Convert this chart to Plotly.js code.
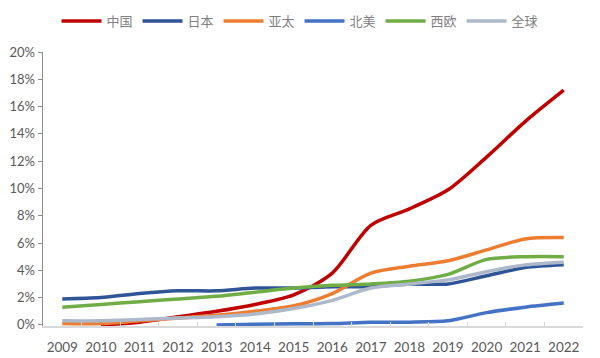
<!DOCTYPE html>
<html>
<head>
<meta charset="utf-8">
<script src="https://cdn.plot.ly/plotly-3.0.1.min.js"></script>
<style>html,body{margin:0;padding:0;background:#fff}#chart{width:600px;height:358px}</style>
</head>
<body>
<div id="chart"></div>
<script>
const years = ['2009','2010','2011','2012','2013','2014','2015','2016','2017','2018','2019','2020','2021','2022'];
const seriesNames = ['中国','日本','亚太','北美','西欧','全球'];
const china   = [null, 0.0, 0.2, 0.6, 1.0, 1.5, 2.2, 3.8, 7.3, 8.5, 9.9, 12.3, 14.9, 17.2];
const japan   = [1.9, 2.0, 2.3, 2.5, 2.5, 2.7, 2.7, 2.8, 2.8, 3.0, 3.0, 3.6, 4.2, 4.4];
const apac    = [0.1, 0.1, 0.3, 0.5, 0.7, 1.0, 1.4, 2.3, 3.8, 4.3, 4.7, 5.5, 6.3, 6.4];
const namer   = [null, null, null, null, 0.0, 0.05, 0.08, 0.1, 0.2, 0.2, 0.3, 0.9, 1.3, 1.6];
const weurope = [1.3, 1.5, 1.7, 1.9, 2.1, 2.4, 2.7, 2.9, 3.0, 3.2, 3.7, 4.8, 5.0, 5.0];
const world   = [0.3, 0.3, 0.4, 0.5, 0.6, 0.8, 1.2, 1.8, 2.7, 3.0, 3.3, 3.9, 4.4, 4.6];
const yTicks = [0,2,4,6,8,10,12,14,16,18,20];

const colors = ['#C00000','#2F5597','#ED7D31','#4472C4','#70AD47','#ADB9CA'];
const values = [china, japan, apac, namer, weurope, world];
const traces = values.map((v,i)=>({
  x: years, y: v, name: seriesNames[i], type:'scatter', mode:'lines',
  line:{color:colors[i], width:3.5, shape:'spline', smoothing:0.8},
  connectgaps:false, hoverinfo:'skip'
}));

const layout = {
  width:600, height:358,
  margin:{l:43, r:17, t:52, b:32, autoexpand:false},
  paper_bgcolor:'#fff', plot_bgcolor:'#fff',
  showlegend:true,
  legend:{orientation:'h', x:0.5, xref:'container', xanchor:'center', y:1-21/358, yref:'container', yanchor:'middle',
    font:{family:'Noto Sans CJK SC, serif', size:13, color:'#808080'},
    itemwidth:40, traceorder:'normal', tracegroupgap:0},
  xaxis:{type:'category', range:[-0.5,13.5], showgrid:false, zeroline:false,
    showline:true, linecolor:'#d9d9d9', linewidth:1.5, tickangle:0, automargin:false,
    ticks:'inside', tickson:'boundaries', ticklen:4, tickcolor:'#d9d9d9', ticklabelstandoff:8,
    tickfont:{family:'Lato, Open Sans, sans-serif', size:13.5, color:'#595959'}},
  yaxis:{range:[-0.08,20], tickvals:yTicks, ticktext:yTicks.map(v=>v+'%'), automargin:false,
    showgrid:false, zeroline:false, showline:true, linecolor:'#8c8c8c', linewidth:1.5,
    ticks:'outside', ticklen:4, tickcolor:'#8c8c8c',
    tickfont:{family:'Lato, Open Sans, sans-serif', size:13, color:'#595959'}}
};
Plotly.newPlot('chart', traces, layout, {displayModeBar:false, staticPlot:true});
</script>
</body>
</html>
